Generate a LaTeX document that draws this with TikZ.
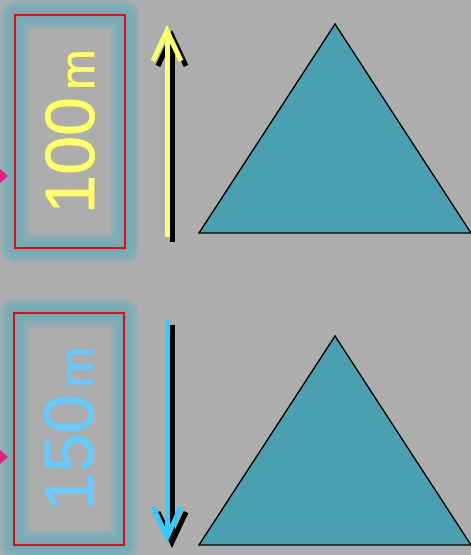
\documentclass[tikz,border=0pt]{standalone}
\usepackage{fontspec}
\setmainfont{Liberation Sans}
\usepackage{xcolor}
\usetikzlibrary{arrows.meta}
\definecolor{bggray}{RGB}{173,173,173}
\definecolor{glowteal}{RGB}{85,177,193}
\definecolor{hillteal}{RGB}{74,160,176}
\definecolor{txtyellow}{RGB}{255,255,102}
\definecolor{txtblue}{RGB}{102,204,255}
\definecolor{arrblue}{RGB}{51,204,255}
\definecolor{markpink}{RGB}{230,30,130}
\newcommand{\unitm}{\hspace{7pt}{\fontsize{49}{49}\selectfont\addfontfeature{FakeBold=0.8}m}}

\begin{document}
\begin{tikzpicture}[
  x=1pt, y=-1pt,
  hbox/.style={draw=red, line width=1.5pt, rotate=90, inner sep=0pt, minimum width=233pt, minimum height=110pt, font=\fontsize{70}{70}\selectfont\addfontfeature{FakeBold=0.8}},
  glow/.style={draw=glowteal, line join=round, opacity=0.16},
  hill/.style={draw=black, line width=1.3pt, line join=miter, fill=hillteal},
  arr/.style={line width=5pt, -{Straight Barb[length=30pt, width=28pt]}},
  pin/.style={fill=markpink}
]
  \useasboundingbox (0,0) rectangle (471,555);
  \fill[bggray] (0,0) rectangle (471,555);

  % glow frames
  \foreach \w in {30,26,22,18,14,10,6,2} {
    \draw[glow, line width=\w pt] (15,15) rectangle (125,248);
    \draw[glow, line width=\w pt] (14,313) rectangle (124,545);
  }

  \node[hbox, text=txtyellow] (h100) at (70,131.5) {100\unitm};
  \node[hbox, text=txtblue, minimum width=232pt] (h150) at (69,429) {150\unitm};

  \fill[pin] (0,169) -- (8,176) -- (0,183) -- cycle;
  \fill[pin] (0,450) -- (8,457) -- (0,464) -- cycle;

  \coordinate (up0) at (167,237);
  \coordinate (up1) at (167,25);
  \coordinate (dn0) at (167,320);
  \coordinate (dn1) at (167,543);

  \draw[arr, black] ([shift={(5,5)}]up0) -- ([shift={(5,5)}]up1);
  \draw[arr, txtyellow] (up0) -- (up1);
  \draw[arr, black] ([shift={(5,5)}]dn0) -- ([shift={(5,5)}]dn1);
  \draw[arr, arrblue] (dn0) -- (dn1);

  \draw[hill] (199,233) -- (335,24) -- (471,233) -- cycle;
  \draw[hill] (199,545) -- (335,336) -- (471,545) -- cycle;
\end{tikzpicture}
\end{document}
